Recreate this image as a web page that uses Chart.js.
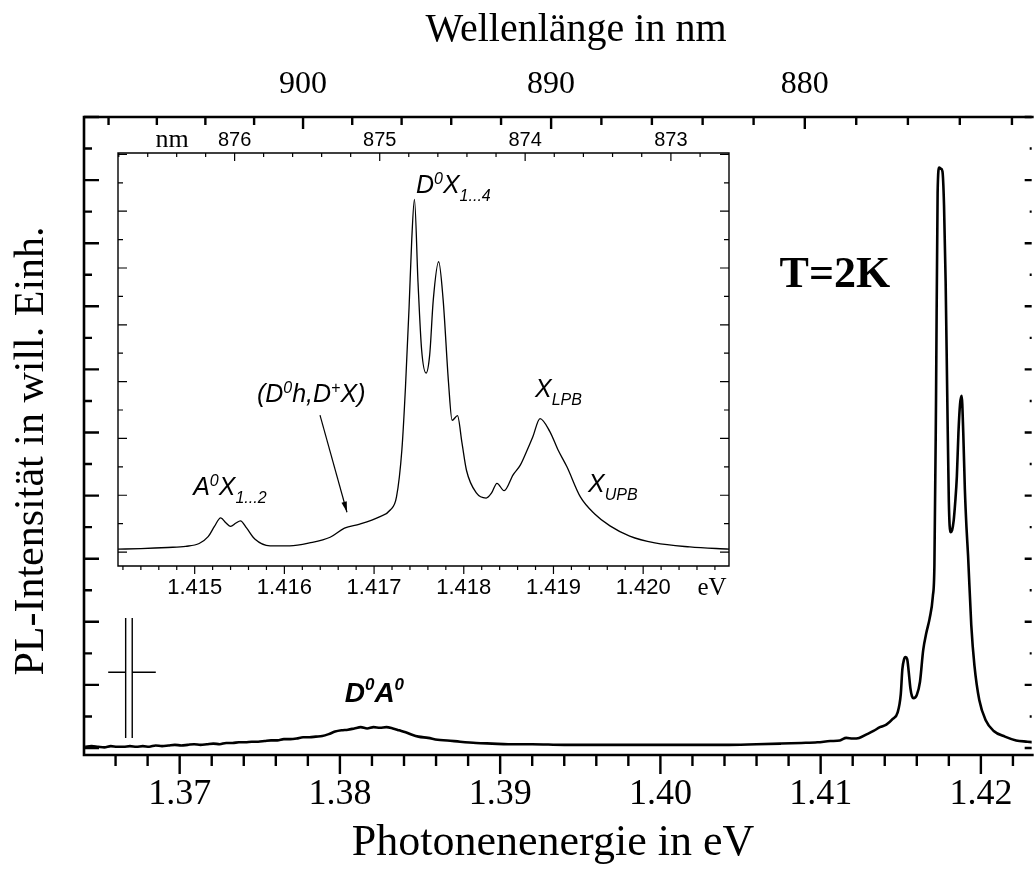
<!DOCTYPE html>
<html>
<head>
<meta charset="utf-8">
<title>PL-Spektrum T=2K</title>
<script src="https://cdn.jsdelivr.net/npm/chart.js@4.4.1/dist/chart.umd.min.js"></script>
<style>
  html, body { margin: 0; padding: 0; background: #fff; overflow: hidden; }
  #wrap { position: relative; width: 1035px; height: 871px; }
  canvas { position: absolute; }
  #main { left: 0; top: 0; }
  #inset { left: 100px; top: 110px; }
</style>
</head>
<body>
<div id="wrap">
  <canvas id="main" width="1035" height="871"></canvas>
  <canvas id="inset" width="650" height="500"></canvas>
</div>
<script>
var HC = 1239.93; // eV*nm, for the wavelength axes

// overview spectrum
var mainEnergy = [
  1.3641, 1.3645, 1.3649, 1.3653, 1.3657, 1.3661, 1.3665, 1.3669, 1.3673, 1.3677,
  1.3681, 1.3685, 1.3689, 1.3693, 1.3697, 1.3701, 1.3705, 1.3709, 1.3713, 1.3717,
  1.3721, 1.3725, 1.3729, 1.3733, 1.3737, 1.3741, 1.3745, 1.3749, 1.3753, 1.3757,
  1.3761, 1.3765, 1.3769, 1.3773, 1.3777, 1.3781, 1.3785, 1.3789, 1.3793, 1.3797,
  1.3801, 1.3805, 1.3809, 1.3813, 1.3817, 1.3821, 1.3825, 1.3829, 1.3833, 1.3837,
  1.3841, 1.3845, 1.3849, 1.3855, 1.3861, 1.3867, 1.3875, 1.3885, 1.3895, 1.3905,
  1.3920, 1.3940, 1.3960, 1.3980, 1.4000, 1.4020, 1.4040, 1.4060, 1.4075, 1.4088,
  1.4098, 1.4106, 1.4112, 1.4116, 1.4120, 1.4124, 1.4129, 1.4133, 1.4137, 1.4141,
  1.4145, 1.4148, 1.4150, 1.4151, 1.4152, 1.4153, 1.4154, 1.4155, 1.4156, 1.4157,
  1.4158, 1.4160, 1.4162, 1.4164, 1.4166, 1.4168, 1.4170, 1.4171, 1.4172, 1.4173,
  1.4174, 1.4175, 1.4176, 1.4177, 1.4178, 1.4179, 1.4180, 1.4181, 1.4182, 1.4183,
  1.4184, 1.4185, 1.4186, 1.4187, 1.4188, 1.4189, 1.4190, 1.4191, 1.4192, 1.4194,
  1.4196, 1.4199, 1.4203, 1.4208, 1.4215, 1.4222, 1.4229, 1.4233
];
var mainIntensity = [
  0.02, 0.03, 0.02, 0.01, 0.03, 0.02, 0.02, 0.03, 0.02, 0.03,
  0.02, 0.04, 0.03, 0.04, 0.05, 0.04, 0.05, 0.06, 0.05, 0.06,
  0.07, 0.06, 0.08, 0.08, 0.09, 0.09, 0.10, 0.10, 0.11, 0.12,
  0.12, 0.14, 0.14, 0.15, 0.17, 0.17, 0.18, 0.19, 0.22, 0.26,
  0.28, 0.29, 0.31, 0.33, 0.31, 0.33, 0.32, 0.33, 0.31, 0.28,
  0.25, 0.21, 0.18, 0.16, 0.13, 0.12, 0.10, 0.08, 0.07, 0.06,
  0.06, 0.05, 0.05, 0.05, 0.05, 0.05, 0.05, 0.06, 0.07, 0.08,
  0.09, 0.11, 0.12, 0.16, 0.15, 0.16, 0.22, 0.27, 0.33, 0.37,
  0.46, 0.56, 0.85, 1.25, 1.40, 1.44, 1.41, 1.20, 0.95, 0.82,
  0.79, 0.84, 1.05, 1.55, 1.83, 2.05, 2.40, 2.90, 5.50, 8.80,
  9.20, 9.18, 9.14, 8.60, 7.40, 5.60, 3.90, 3.42, 3.45, 3.60,
  3.90, 4.30, 5.00, 5.45, 5.58, 5.00, 4.10, 3.50, 3.05, 1.95,
  1.30, 0.76, 0.44, 0.27, 0.18, 0.12, 0.10, 0.09
];

// high resolution scan of the excitonic region
var insetEnergy = [
  1.41414, 1.41440, 1.41470, 1.41490, 1.41505, 1.41515, 1.41522, 1.41529, 1.41535, 1.41540,
  1.41546, 1.41551, 1.41558, 1.41567, 1.41584, 1.41606, 1.41628, 1.41651, 1.41667, 1.41684,
  1.41706, 1.41718, 1.41725, 1.41731, 1.41735, 1.41739, 1.41742, 1.41745, 1.41749, 1.41753,
  1.41758, 1.41762, 1.41766, 1.41772, 1.41777, 1.41783, 1.41787, 1.41793, 1.41798, 1.41803,
  1.41814, 1.41825, 1.41831, 1.41837, 1.41845, 1.41855, 1.41863, 1.41870, 1.41877, 1.41885,
  1.41896, 1.41905, 1.41915, 1.41930, 1.41946, 1.41963, 1.41985, 1.42013, 1.42052, 1.42096
];
var insetIntensity = [
  0.05, 0.06, 0.08, 0.10, 0.15, 0.27, 0.45, 0.60, 0.51, 0.45,
  0.51, 0.55, 0.42, 0.23, 0.11, 0.11, 0.16, 0.26, 0.42, 0.49,
  0.62, 0.74, 0.97, 1.80, 2.90, 4.30, 5.50, 6.21, 4.74, 3.56,
  3.15, 3.47, 4.44, 5.11, 4.44, 2.98, 2.32, 2.40, 1.92, 1.44,
  1.04, 0.95, 1.04, 1.21, 1.08, 1.36, 1.53, 1.77, 2.03, 2.35,
  2.12, 1.80, 1.50, 0.97, 0.67, 0.46, 0.28, 0.16, 0.09, 0.05
];

// labelled ticks
var mainEvLabels = [1.37, 1.38, 1.39, 1.40, 1.41, 1.42];
var mainNmLabels = [900, 890, 880];
var insetEvLabels = [1.415, 1.416, 1.417, 1.418, 1.419, 1.420];
var insetNmLabels = [876, 875, 874, 873];

var SERIF = "'Liberation Serif', 'Times New Roman', serif";
var SANS = "'Liberation Sans', Arial, sans-serif";

function zip(xs, ys) {
  return xs.map(function (x, i) { return { x: x, y: ys[i] }; });
}

function hasValue(list, v) {
  return list.some(function (l) { return Math.abs(l - v) < 1e-7; });
}

// evenly spaced ticks, flagged major where isMajor says so
function linearTicks(lo, hi, step, isMajor) {
  var out = [];
  for (var i = Math.ceil(lo / step - 1e-6); i * step <= hi + 1e-9; i++) {
    var v = +(i * step).toFixed(6);
    out.push({ value: v, major: isMajor(v) });
  }
  return out;
}

// wavelength ticks put onto the energy scale
function nmTicks(lo, hi, step, labels) {
  var out = [];
  var nmLo = HC / hi, nmHi = HC / lo;
  for (var i = Math.ceil(nmLo / step - 1e-6); i * step <= nmHi + 1e-9; i++) {
    var nm = +(i * step).toFixed(4);
    out.push({ value: HC / nm, nm: nm, major: hasValue(labels, nm) });
  }
  return out.reverse();
}

var noGrid = { display: false, drawTicks: false };

function evAxis(pos, min, max, step, labels, digits, font, pad, size) {
  return {
    type: 'linear', position: pos, min: min, max: max, bounds: 'data',
    grid: noGrid, border: { display: false },
    afterBuildTicks: function (s) {
      s.ticks = linearTicks(min, max, step, function (v) { return hasValue(labels, v); });
    },
    afterFit: function (s) { s.height = size; },
    ticks: {
      autoSkip: false, maxRotation: 0, minRotation: 0, padding: pad, color: '#000', font: font,
      callback: function (v, i, t) { return t[i].major ? v.toFixed(digits) : ''; }
    }
  };
}

function nmAxis(pos, min, max, step, labels, font, pad, size) {
  return {
    type: 'linear', position: pos, min: min, max: max, bounds: 'data',
    grid: noGrid, border: { display: false },
    afterBuildTicks: function (s) { s.ticks = nmTicks(min, max, step, labels); },
    afterFit: function (s) { s.height = size; },
    ticks: {
      autoSkip: false, maxRotation: 0, minRotation: 0, padding: pad, color: '#000', font: font,
      callback: function (v, i, t) { return t[i].major ? String(t[i].nm) : ''; }
    }
  };
}

function countAxis(pos, min, max, size) {
  return {
    type: 'linear', position: pos, min: min, max: max, bounds: 'data',
    grid: noGrid, border: { display: false },
    ticks: { display: false },
    afterBuildTicks: function (s) {
      s.ticks = linearTicks(0, Math.floor(max), 0.5, function (v) { return v % 1 === 0; });
    },
    afterFit: function (s) { s.width = size; }
  };
}

// axis box plus tick marks (inward = 1, outward = -1)
function framePlugin(spec) {
  return {
    id: 'frame',
    afterDraw: function (chart) {
      var ctx = chart.ctx, a = chart.chartArea;
      ctx.save();
      ctx.strokeStyle = '#000';
      Object.keys(spec.marks).forEach(function (id) {
        var s = chart.scales[id], m = spec.marks[id];
        ctx.lineWidth = m.width;
        ctx.beginPath();
        s.ticks.forEach(function (t) {
          var p = s.getPixelForValue(t.value);
          var len = (t.major ? m.major : m.minor) * m.dir;
          if (s.position === 'left') { ctx.moveTo(a.left, p); ctx.lineTo(a.left + len, p); }
          else if (s.position === 'right') { ctx.moveTo(a.right, p); ctx.lineTo(a.right - len, p); }
          else if (s.position === 'top') { ctx.moveTo(p, a.top); ctx.lineTo(p, a.top + len); }
          else { ctx.moveTo(p, a.bottom); ctx.lineTo(p, a.bottom - len); }
        });
        ctx.stroke();
      });
      ctx.lineWidth = spec.box;
      ctx.beginPath();
      ctx.moveTo(a.right + (spec.closed ? 0 : 2), a.top);
      ctx.lineTo(a.left, a.top);
      ctx.lineTo(a.left, a.bottom);
      ctx.lineTo(a.right + (spec.closed ? 0 : 2), a.bottom);
      if (spec.closed) ctx.closePath();
      ctx.stroke();
      ctx.restore();
      if (spec.notes) spec.notes(chart);
    }
  };
}

// text run with super/subscripts: [text, font, dy]
function rich(ctx, x, y, parts) {
  parts.forEach(function (p) {
    ctx.font = p[1];
    ctx.fillText(p[0], x, y + (p[2] || 0));
    x += ctx.measureText(p[0]).width;
  });
}

function mainNotes(chart) {
  var ctx = chart.ctx, sx = chart.scales.x, sy = chart.scales.y;
  var px = function (v) { return sx.getPixelForValue(v); };
  var py = function (v) { return sy.getPixelForValue(v); };
  ctx.save();
  ctx.fillStyle = '#000';
  ctx.strokeStyle = '#000';
  ctx.textAlign = 'left';
  ctx.textBaseline = 'alphabetic';

  ctx.font = 'bold 44px ' + SERIF;
  ctx.fillText('T=2K', px(1.40744), py(7.31));

  var b = 'italic bold 28px ' + SANS, bs = 'italic bold 17px ' + SANS;
  rich(ctx, px(1.38030), py(0.73), [['D', b], ['0', bs, -12], ['A', b], ['0', bs, -12]]);

  // double bar with cross line
  ctx.lineWidth = 1.4;
  ctx.beginPath();
  ctx.moveTo(px(1.36663), py(0.16)); ctx.lineTo(px(1.36663), py(2.06));
  ctx.moveTo(px(1.36704), py(0.16)); ctx.lineTo(px(1.36704), py(2.06));
  ctx.moveTo(px(1.36554), py(1.20)); ctx.lineTo(px(1.36660), py(1.20));
  ctx.moveTo(px(1.36708), py(1.20)); ctx.lineTo(px(1.36851), py(1.20));
  ctx.stroke();

  // axis titles
  ctx.textAlign = 'center';
  ctx.textBaseline = 'middle';
  ctx.font = '40px ' + SERIF;
  ctx.fillText('Wellenlänge in nm', 576, 30);
  ctx.font = '44px ' + SERIF;
  ctx.fillText('Photonenenergie in eV', 553, 843);
  ctx.translate(32, 451);
  ctx.rotate(-Math.PI / 2);
  ctx.font = '42px ' + SERIF;
  ctx.fillText('PL-Intensität in will. Einh.', 0, 0);
  ctx.restore();
}

function insetNotes(chart) {
  var ctx = chart.ctx, sx = chart.scales.x, sy = chart.scales.y, a = chart.chartArea;
  var px = function (v) { return sx.getPixelForValue(v); };
  var py = function (v) { return sy.getPixelForValue(v); };
  var f = 'italic 25px ' + SANS, sup = 'italic 16px ' + SANS, sub = 'italic 16px ' + SANS;
  ctx.save();
  ctx.fillStyle = '#000';
  ctx.strokeStyle = '#000';
  ctx.textAlign = 'left';
  ctx.textBaseline = 'alphabetic';

  rich(ctx, px(1.417467), py(6.32), [['D', f], ['0', sup, -9], ['X', f], ['1...4', sub, 8]]);
  rich(ctx, px(1.418794), py(2.73), [['X', f], ['LPB', sub, 8]]);
  rich(ctx, px(1.419385), py(1.06), [['X', f], ['UPB', sub, 8]]);
  rich(ctx, px(1.414983), py(1.00), [['A', f], ['0', sup, -9], ['X', f], ['1...2', sub, 8]]);
  rich(ctx, px(1.415694), py(2.64), [['(D', f], ['0', sup, -9], ['h,D', f], ['+', sup, -9], ['X)', f]]);

  // arrow onto the shoulder
  var x0 = px(1.416397), y0 = py(2.41), x1 = px(1.416698), y1 = py(0.70);
  var ang = Math.atan2(y1 - y0, x1 - x0);
  ctx.lineWidth = 1.2;
  ctx.beginPath();
  ctx.moveTo(x0, y0); ctx.lineTo(x1, y1);
  ctx.stroke();
  ctx.beginPath();
  ctx.moveTo(x1, y1);
  ctx.lineTo(x1 - 11 * Math.cos(ang - 0.25), y1 - 11 * Math.sin(ang - 0.25));
  ctx.lineTo(x1 - 11 * Math.cos(ang + 0.25), y1 - 11 * Math.sin(ang + 0.25));
  ctx.closePath();
  ctx.fill();

  // units of the inset axes
  ctx.textAlign = 'center';
  ctx.font = '26px ' + SERIF;
  ctx.fillText('nm', a.left + 54, a.top - 6);
  ctx.textBaseline = 'middle';
  ctx.font = '25px ' + SERIF;
  ctx.fillText('eV', a.right - 17, a.bottom + 22);
  ctx.restore();
}

var baseOptions = {
  responsive: false, animation: false, events: [],
  layout: { padding: 0 },
  plugins: { legend: { display: false }, tooltip: { enabled: false } }
};

new Chart(document.getElementById('main'), {
  type: 'line',
  data: {
    datasets: [{
      data: zip(mainEnergy, mainIntensity),
      borderColor: '#000', borderWidth: 2.6, pointRadius: 0, fill: false,
      cubicInterpolationMode: 'monotone', xAxisID: 'x', yAxisID: 'y'
    }]
  },
  options: Object.assign({}, baseOptions, {
    scales: {
      x: evAxis('bottom', 1.36403, 1.42317, 0.002, mainEvLabels, 2,
        { family: SERIF, size: 36, lineHeight: 1 }, 22, 116),
      x2: nmAxis('top', 1.36403, 1.42317, 2, mainNmLabels,
        { family: SERIF, size: 32, lineHeight: 1 }, 16, 117),
      y: countAxis('left', -0.111, 10, 84),
      y2: countAxis('right', -0.111, 10, 0)
    }
  }),
  plugins: [framePlugin({
    box: 2.6, closed: false, notes: mainNotes,
    marks: {
      x: { dir: -1, major: 19, minor: 11, width: 2.4 },
      x2: { dir: 1, major: 12, minor: 8, width: 2.4 },
      y: { dir: 1, major: 15, minor: 8, width: 2.4 },
      y2: { dir: 1, major: 7, minor: 2, width: 2.4 }
    }
  })]
});

new Chart(document.getElementById('inset'), {
  type: 'line',
  data: {
    datasets: [{
      data: zip(insetEnergy, insetIntensity),
      borderColor: '#000', borderWidth: 1.3, pointRadius: 0, fill: false,
      cubicInterpolationMode: 'monotone', xAxisID: 'x', yAxisID: 'y'
    }]
  },
  options: Object.assign({}, baseOptions, {
    scales: {
      x: evAxis('bottom', 1.414145, 1.420957, 0.0002, insetEvLabels, 3,
        { family: SANS, size: 22, lineHeight: 1 }, 11, 44),
      x2: nmAxis('top', 1.414145, 1.420957, 0.2, insetNmLabels,
        { family: SANS, size: 20, lineHeight: 1 }, 3, 43),
      y: countAxis('left', -0.246, 7.025, 18),
      y2: countAxis('right', -0.246, 7.025, 21)
    }
  }),
  plugins: [framePlugin({
    box: 1.4, closed: true, notes: insetNotes,
    marks: {
      x: { dir: -1, major: 8, minor: 4, width: 1.2 },
      x2: { dir: 1, major: 8, minor: 4, width: 1.2 },
      y: { dir: 1, major: 9, minor: 5, width: 1.2 },
      y2: { dir: 1, major: 9, minor: 5, width: 1.2 }
    }
  })]
});
</script>
</body>
</html>
